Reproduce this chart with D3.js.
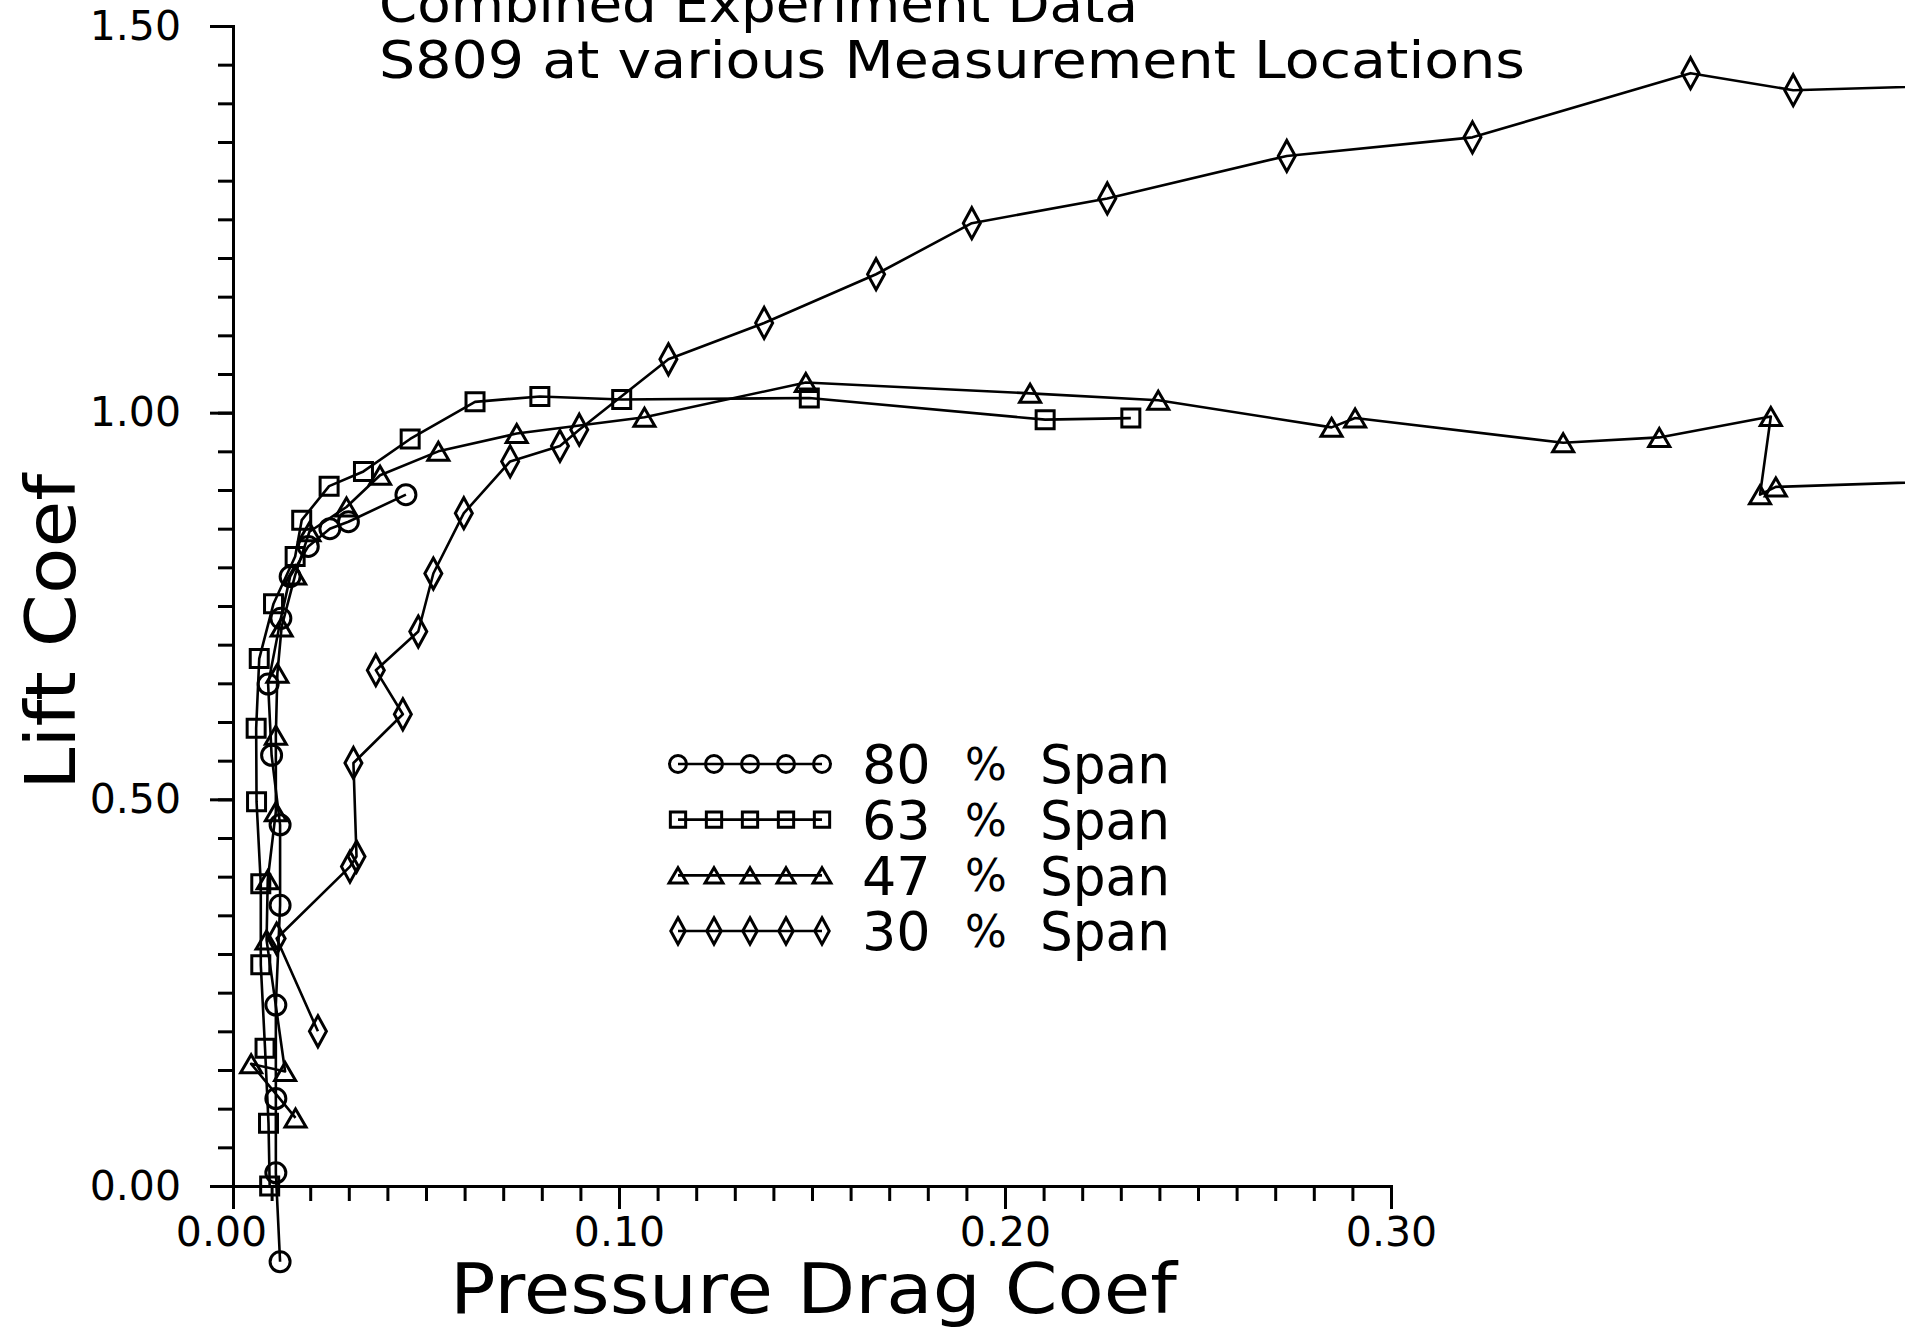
<!DOCTYPE html>
<html>
<head>
<meta charset="utf-8">
<script src="https://cdn.jsdelivr.net/npm/d3@7"></script>
<style>
  html, body { margin: 0; padding: 0; background: #fff; }
  svg { display: block; }
  text { font-family: "DejaVu Sans", "Liberation Sans", sans-serif; fill: #000; }
</style>
</head>
<body>
<div id="chart"></div>
<script>
// ---------------- DATA ----------------
const titleLines = ["Combined Experiment Data", "S809 at various Measurement Locations"];
const xTitle = "Pressure Drag Coef";
const yTitle = "Lift Coef";

const xMajorTicks = [0.00, 0.10, 0.20, 0.30];
const yMajorTicks = [0.00, 0.50, 1.00, 1.50];

// 80 % Span (circles)
const span80Cd = [0.0122, 0.0111, 0.0111, 0.0111, 0.0122, 0.0122, 0.0100, 0.0091, 0.0124, 0.0148, 0.0195, 0.0251, 0.0299, 0.0448];
const span80Cl = [-0.098, 0.017, 0.113, 0.234, 0.363, 0.467, 0.557, 0.649, 0.734, 0.788, 0.827, 0.850, 0.859, 0.894];

// 63 % Span (squares)
const span63Cd = [0.0095, 0.0092, 0.0083, 0.0072, 0.0072, 0.0061, 0.0060, 0.0068, 0.0105, 0.0161, 0.0178, 0.0249, 0.0338, 0.0459, 0.0627, 0.0795, 0.1007, 0.1493, 0.2104, 0.2326];
const span63Cl = [0.000, 0.081, 0.178, 0.286, 0.391, 0.497, 0.592, 0.682, 0.753, 0.814, 0.861, 0.905, 0.924, 0.966, 1.014, 1.021, 1.017, 1.019, 0.991, 0.993];

// 47 % Span (triangles)
const span47Cd = [0.0162, 0.0047, 0.0135, 0.0087, 0.0090, 0.0111, 0.0111, 0.0115, 0.0126, 0.0161, 0.0198, 0.0294, 0.0381, 0.0532, 0.0735, 0.1066, 0.1484, 0.2065, 0.2397, 0.2846, 0.2907, 0.3446, 0.3695, 0.3984, 0.3956, 0.3997, 0.4600];
const span47Cl = [0.088, 0.158, 0.148, 0.318, 0.396, 0.484, 0.583, 0.663, 0.723, 0.790, 0.846, 0.878, 0.919, 0.950, 0.973, 0.994, 1.039, 1.025, 1.016, 0.981, 0.993, 0.961, 0.968, 0.995, 0.894, 0.904, 0.914];

// 30 % Span (diamonds)
const span30Cd = [0.0220, 0.0113, 0.0303, 0.0320, 0.0312, 0.0440, 0.0370, 0.0480, 0.0519, 0.0598, 0.0718, 0.0847, 0.0897, 0.1128, 0.1376, 0.1666, 0.1914, 0.2265, 0.2730, 0.3211, 0.3776, 0.4042, 0.4600];
const span30Cl = [0.200, 0.320, 0.413, 0.426, 0.547, 0.610, 0.667, 0.717, 0.792, 0.870, 0.937, 0.957, 0.978, 1.069, 1.116, 1.179, 1.245, 1.277, 1.332, 1.356, 1.439, 1.417, 1.425];

const seriesNames = ["80", "63", "47", "30"];
const seriesShapes = ["circle", "square", "triangle", "diamond"];

// ---------------- BUILD ----------------
const W = 1905, H = 1330;
const svg = d3.select("#chart").append("svg").attr("width", W).attr("height", H);
svg.append("rect").attr("width", W).attr("height", H).attr("fill", "#fff");

const x = d3.scaleLinear().domain([0, 0.3]).range([233, 1391]);
const y = d3.scaleLinear().domain([0, 1.5]).range([1186, 26]);

const series = [
  {name: seriesNames[0], shape: seriesShapes[0], pts: span80Cd.map((d, i) => [d, span80Cl[i]])},
  {name: seriesNames[1], shape: seriesShapes[1], pts: span63Cd.map((d, i) => [d, span63Cl[i]])},
  {name: seriesNames[2], shape: seriesShapes[2], pts: span47Cd.map((d, i) => [d, span47Cl[i]])},
  {name: seriesNames[3], shape: seriesShapes[3], pts: span30Cd.map((d, i) => [d, span30Cl[i]])}
];

function markerPath(shape, s) {
  const p = d3.path();
  if (shape === "circle") {
    const r = 10 * s; p.moveTo(r, 0); p.arc(0, 0, r, 0, 2 * Math.PI);
  } else if (shape === "square") {
    const h = 9 * s; p.rect(-h, -h, 2 * h, 2 * h);
  } else if (shape === "triangle") {
    const w = 10.5 * s, hh = 9 * s;
    p.moveTo(0, -hh); p.lineTo(w, hh); p.lineTo(-w, hh); p.closePath();
  } else if (shape === "diamond") {
    const w = 8.5 * s, hh = 15.5 * s;
    p.moveTo(0, -hh); p.lineTo(w, 0); p.lineTo(0, hh); p.lineTo(-w, 0); p.closePath();
  }
  return p.toString();
}

// ---------------- AXES ----------------
const axisStyle = g => {
  g.select(".domain").attr("stroke", "#000").attr("stroke-width", 3);
  g.selectAll(".tick line").attr("stroke", "#000").attr("stroke-width", 3);
};

const xMinor = d3.range(0, 31).map(i => i / 100);
const yMinor = d3.range(0, 31).map(i => i / 20);

// x minor ticks
const gxm = svg.append("g").attr("transform", `translate(0,${y(0)})`)
  .call(d3.axisBottom(x).tickValues(xMinor).tickSize(15).tickFormat(""))
  .call(axisStyle);
gxm.selectAll(".tick text").remove();
// x major ticks + labels
const gx = svg.append("g").attr("transform", `translate(0,${y(0)})`)
  .call(d3.axisBottom(x).tickValues(xMajorTicks).tickSize(23).tickPadding(8).tickFormat(d3.format(".2f")))
  .call(axisStyle);
gx.select(".domain").remove();
gx.selectAll(".tick text").attr("font-size", 41).attr("font-family", "DejaVu Sans")
  .attr("dx", d => d === 0 ? -12 : 0);

// y minor ticks
const gym = svg.append("g").attr("transform", `translate(${x(0)},0)`)
  .call(d3.axisLeft(y).tickValues(yMinor).tickSize(15).tickFormat(""))
  .call(axisStyle);
gym.selectAll(".tick text").remove();
const gy = svg.append("g").attr("transform", `translate(${x(0)},0)`)
  .call(d3.axisLeft(y).tickValues(yMajorTicks).tickSize(23).tickPadding(29).tickFormat(d3.format(".2f")))
  .call(axisStyle);
gy.select(".domain").remove();
gy.selectAll(".tick text").attr("font-size", 41).attr("font-family", "DejaVu Sans");
svg.selectAll(".domain").attr("stroke-linecap", "square");

// ---------------- SERIES ----------------
const line = d3.line().x(d => x(d[0])).y(d => y(d[1]));
const gs = svg.append("g");
series.forEach(s => {
  gs.append("path").attr("d", line(s.pts)).attr("fill", "none")
    .attr("stroke", "#000").attr("stroke-width", 2.6).attr("stroke-linejoin", "round");
  gs.selectAll(null).data(s.pts).enter().append("path")
    .attr("transform", d => `translate(${x(d[0])},${y(d[1])})`)
    .attr("d", markerPath(s.shape, 1))
    .attr("fill", "none").attr("stroke", "#000").attr("stroke-width", 3);
});

// ---------------- TITLES ----------------
svg.append("text").attr("x", 379).attr("y", 22).attr("font-size", 52)
  .attr("textLength", 759).attr("lengthAdjust", "spacingAndGlyphs").text(titleLines[0]);
svg.append("text").attr("x", 379).attr("y", 78).attr("font-size", 52)
  .attr("textLength", 1146).attr("lengthAdjust", "spacingAndGlyphs").text(titleLines[1]);

svg.append("text").attr("x", 450).attr("y", 1313).attr("font-size", 70)
  .attr("textLength", 727).attr("lengthAdjust", "spacingAndGlyphs").text(xTitle);

svg.append("text").attr("transform", "translate(75,632) rotate(-90)")
  .attr("text-anchor", "middle").attr("font-size", 70)
  .attr("textLength", 316).attr("lengthAdjust", "spacingAndGlyphs").text(yTitle);

// ---------------- LEGEND ----------------
const legendRowY = d3.scaleLinear().domain([0, 3]).range([764, 931]);
const legendMarkX = d3.scaleLinear().domain([0, 4]).range([678, 822]);
const lg = svg.append("g");
series.forEach((s, i) => {
  const ly = legendRowY(i);
  lg.append("line").attr("x1", legendMarkX(0)).attr("x2", legendMarkX(4))
    .attr("y1", ly).attr("y2", ly).attr("stroke", "#000").attr("stroke-width", 2.6);
  d3.range(5).forEach(k => {
    lg.append("path").attr("transform", `translate(${legendMarkX(k)},${ly})`)
      .attr("d", markerPath(s.shape, 0.85)).attr("fill", "none")
      .attr("stroke", "#000").attr("stroke-width", 3);
  });
  lg.append("text").attr("x", 862).attr("y", ly).attr("dy", "0.36em").attr("font-size", 54).text(s.name);
  lg.append("text").attr("x", 965).attr("y", ly).attr("dy", "0.36em").attr("font-size", 44).text("%");
  lg.append("text").attr("x", 1040).attr("y", ly).attr("dy", "0.36em").attr("font-size", 54)
    .attr("textLength", 130).attr("lengthAdjust", "spacingAndGlyphs").text("Span");
});
</script>
</body>
</html>
